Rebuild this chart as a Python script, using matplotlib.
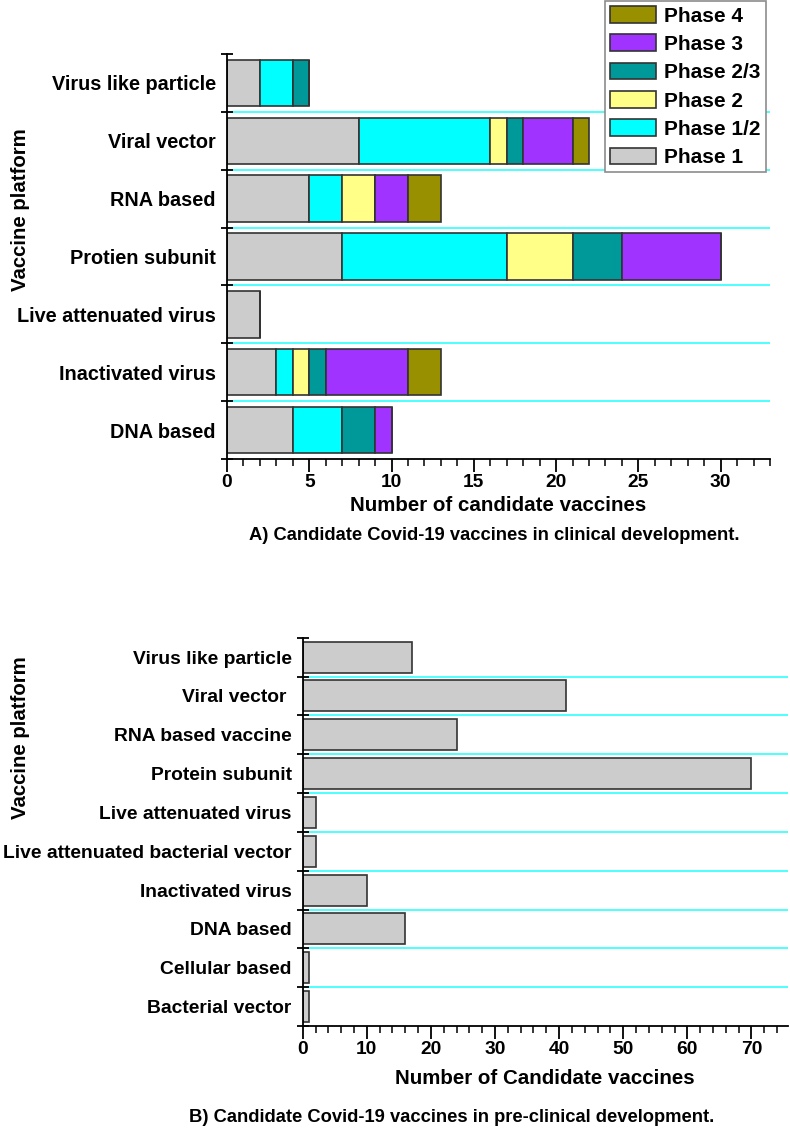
import matplotlib
matplotlib.use("Agg")
import matplotlib.pyplot as plt
from matplotlib.patches import Patch
from matplotlib.ticker import MultipleLocator
from matplotlib import font_manager

# --- data: clinical development (bottom -> top) ---
platforms_a = ['DNA based', 'Inactivated virus', 'Live attenuated virus',
               'Protien subunit', 'RNA based', 'Viral vector', 'Virus like particle']
phase_1 = [4, 3, 2, 7, 5, 8, 2]
phase_12 = [3, 1, 0, 10, 2, 8, 2]
phase_2 = [0, 1, 0, 4, 2, 1, 0]
phase_23 = [2, 1, 0, 3, 0, 1, 1]
phase_3 = [1, 5, 0, 6, 2, 3, 0]
phase_4 = [0, 2, 0, 0, 2, 1, 0]
phase_names = ['Phase 1', 'Phase 1/2', 'Phase 2', 'Phase 2/3', 'Phase 3', 'Phase 4']
phase_colors = ['#cccccc', '#00ffff', '#ffff88', '#009999', '#a033ff', '#999000']

# --- data: pre-clinical development (bottom -> top) ---
platforms_b = ['Bacterial vector', 'Cellular based', 'DNA based', 'Inactivated virus',
               'Live attenuated bacterial vector', 'Live attenuated virus',
               'Protein subunit', 'RNA based vaccine', 'Viral vector ', 'Virus like particle']
counts_b = [1, 1, 16, 10, 2, 2, 70, 24, 41, 17]

REG = 'Liberation Sans'
available = {f.name for f in font_manager.fontManager.ttflist}
# condensed face for axis numbers / captions if there is one
if 'Liberation Sans Narrow' in available:
    NARROW, tick_size, xlab_size, cap_size = 'Liberation Sans Narrow', 16, 17.5, 15.8
else:
    NARROW, tick_size, xlab_size, cap_size = REG, 13.8, 14.8, 13.2

plt.rcParams['font.family'] = REG
plt.rcParams['font.weight'] = 'bold'

W, H = 790, 1134
fig = plt.figure(figsize=(W / 100, H / 100), dpi=100)


def fx(px):
    return px / W


def fy(py):
    return 1 - py / H


def add_axes(left, right, top, bottom):
    return fig.add_axes([fx(left), fy(bottom), fx(right) - fx(left), (bottom - top) / H])


def style_axes(ax, labels, xmax, major, minor, label_size):
    n = len(labels)
    ax.set_ylim(-0.5, n - 0.5)
    ax.set_xlim(0, xmax)
    for s in ['top', 'right']:
        ax.spines[s].set_visible(False)
    for s in ['left', 'bottom']:
        ax.spines[s].set_linewidth(1.3)
    for k in range(n - 1):
        ax.axhline(k + 0.5, color='#40ffff', lw=1.3, zorder=0)
    # boundary ticks on y, category labels on minor ticks
    ax.set_yticks([k - 0.5 for k in range(n + 1)])
    ax.set_yticklabels([])
    ax.set_yticks(range(n), minor=True)
    ax.set_yticklabels(labels, minor=True)
    ax.tick_params(axis='y', which='major', direction='inout', length=8, width=1.3)
    ax.tick_params(axis='y', which='minor', length=0, pad=8, labelsize=label_size)
    ax.xaxis.set_major_locator(MultipleLocator(major))
    ax.xaxis.set_minor_locator(MultipleLocator(minor))
    ax.tick_params(axis='x', which='major', direction='out', length=9, width=1.3, pad=2,
                   labelsize=tick_size, labelfontfamily=NARROW)
    ax.tick_params(axis='x', which='minor', direction='out', length=5, width=1.1)


# ---------------- A) clinical ----------------
ax1 = add_axes(227, 770, 54, 459)
series = [phase_1, phase_12, phase_2, phase_23, phase_3, phase_4]
left = [0] * len(platforms_a)
for vals, color in zip(series, phase_colors):
    ax1.barh(range(len(platforms_a)), vals, left=left, height=0.8, color=color,
             edgecolor='#333333', linewidth=1.2, zorder=2)
    left = [l + v for l, v in zip(left, vals)]
style_axes(ax1, platforms_a, 33, 5, 1, 14.3)

handles = [Patch(facecolor=c, edgecolor='#333333', linewidth=1.2) for c in phase_colors]
leg = fig.legend(handles[::-1], phase_names[::-1], loc='upper left',
                 bbox_to_anchor=(fx(605), fy(1)), borderaxespad=0,
                 prop={'family': REG, 'weight': 'bold', 'size': 15},
                 fancybox=False, framealpha=1, edgecolor='#8c8c8c',
                 handlelength=2.2, handleheight=0.85, handletextpad=0.4,
                 labelspacing=0.42, borderpad=0.25)
leg.get_frame().set_linewidth(1.2)

fig.text(fx(498), fy(506), 'Number of candidate vaccines', ha='center', va='center',
         family=NARROW, fontsize=xlab_size)
fig.text(fx(249), fy(535), 'A) Candidate Covid-19 vaccines in clinical development.',
         ha='left', va='center', family=NARROW, fontsize=cap_size)
fig.text(fx(21), fy(210), 'Vaccine platform', rotation=90, ha='center', va='center',
         fontsize=14.7)

# ---------------- B) pre-clinical ----------------
ax2 = add_axes(302.7, 788, 637.7, 1026)
ax2.barh(range(len(platforms_b)), counts_b, height=0.8, color='#cccccc',
         edgecolor='#333333', linewidth=1.2, zorder=2)
style_axes(ax2, platforms_b, 75.7, 10, 2, 13.9)

fig.text(fx(545), fy(1078), 'Number of Candidate vaccines', ha='center', va='center',
         family=NARROW, fontsize=xlab_size)
fig.text(fx(189), fy(1118), 'B) Candidate Covid-19 vaccines in pre-clinical development.',
         ha='left', va='center', family=NARROW, fontsize=cap_size)
fig.text(fx(21), fy(738), 'Vaccine platform', rotation=90, ha='center', va='center',
         fontsize=14.7)

fig.savefig('out.png', dpi=100)
